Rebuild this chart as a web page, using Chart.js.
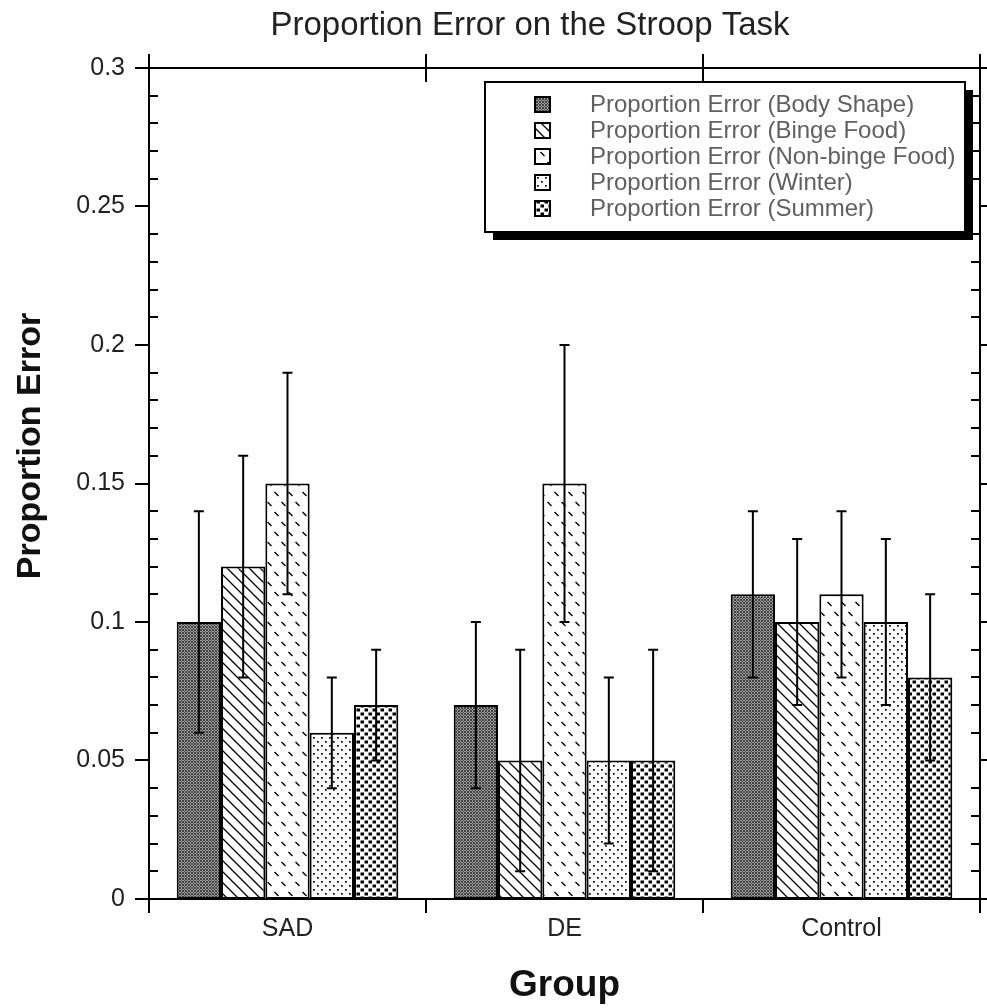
<!DOCTYPE html>
<html>
<head>
<meta charset="utf-8">
<title>Proportion Error on the Stroop Task</title>
<script src="https://cdn.jsdelivr.net/npm/chart.js@4.4.0/dist/chart.umd.min.js"></script>
<style>
    body { margin: 0; background: #fff; }
    canvas { display: block; }
</style>
</head>
<body>
<canvas id="stroopChart" width="987" height="1008"></canvas>
<script>
// Dados do gráfico
const groups = ['SAD', 'DE', 'Control'];
const seriesNames = [
    'Proportion Error (Body Shape)',
    'Proportion Error (Binge Food)',
    'Proportion Error (Non-binge Food)',
    'Proportion Error (Winter)',
    'Proportion Error (Summer)'
];
const bodyShape = [0.10, 0.07, 0.11];
const bingeFood = [0.12, 0.05, 0.10];
const nonBingeFood = [0.15, 0.15, 0.11];
const winter = [0.06, 0.05, 0.10];
const summer = [0.07, 0.05, 0.08];

// Barras de erro (+/-)
const bodyShapeErr = [0.04, 0.03, 0.03];
const bingeFoodErr = [0.04, 0.04, 0.03];
const nonBingeFoodErr = [0.04, 0.05, 0.03];
const winterErr = [0.02, 0.03, 0.03];
const summerErr = [0.02, 0.04, 0.03];

const yTicks = [0, 0.05, 0.1, 0.15, 0.2, 0.25, 0.3];

const FONT = '"Liberation Sans", Arial, Helvetica, sans-serif';

// Padrões de preenchimento (hachuras)
function makePattern(w, h, draw) {
    const c = document.createElement('canvas');
    c.width = w;
    c.height = h;
    const g = c.getContext('2d');
    g.fillStyle = '#fff';
    g.fillRect(0, 0, w, h);
    draw(g);
    return document.getElementById('stroopChart').getContext('2d').createPattern(c, 'repeat');
}

const patterns = [
    // cinza pontilhado denso
    makePattern(3, 3, g => {
        g.fillStyle = '#a0a0a0';
        g.fillRect(0, 0, 3, 3);
        g.fillStyle = '#404040';
        g.fillRect(0, 0, 1, 1);
        g.fillRect(2, 0, 1, 1);
        g.fillRect(1, 1, 1, 1);
        g.fillRect(0, 2, 1, 1);
        g.fillRect(2, 2, 1, 1);
    }),
    // linhas diagonais "\"
    makePattern(11, 11, g => {
        g.strokeStyle = '#000';
        g.lineWidth = 1.3;
        g.beginPath();
        g.moveTo(-2, -2); g.lineTo(13, 13);
        g.moveTo(-2, 9); g.lineTo(2, 13);
        g.moveTo(9, -2); g.lineTo(13, 2);
        g.stroke();
    }),
    // tracinhos espaçados, em colunas alternadas
    makePattern(14, 20, g => {
        g.strokeStyle = '#000';
        g.lineWidth = 1.4;
        g.beginPath();
        g.moveTo(1.5, 2); g.lineTo(5.5, 6);
        g.moveTo(8.5, 12); g.lineTo(12.5, 16);
        g.stroke();
    }),
    // pontos esparsos
    makePattern(8, 8, g => {
        g.fillStyle = '#000';
        g.fillRect(1, 1, 1.7, 1.7);
        g.fillRect(5, 5, 1.7, 1.7);
    }),
    // quadradinhos pretos
    makePattern(8, 8, g => {
        g.fillStyle = '#000';
        g.fillRect(0.5, 0.5, 3.5, 3);
        g.fillRect(4.5, 4.5, 3.5, 3);
    })
];

const values = [bodyShape, bingeFood, nonBingeFood, winter, summer];
const errors = [bodyShapeErr, bingeFoodErr, nonBingeFoodErr, winterErr, summerErr];

// Plugin: barras de erro
const errorBars = {
    id: 'errorBars',
    afterDatasetsDraw(chart) {
        const ctx = chart.ctx;
        const y = chart.scales.y;
        ctx.save();
        ctx.strokeStyle = '#000';
        ctx.lineWidth = 2;
        chart.data.datasets.forEach((ds, i) => {
            const meta = chart.getDatasetMeta(i);
            meta.data.forEach((bar, j) => {
                const v = ds.data[j];
                const e = ds.errors[j];
                const top = y.getPixelForValue(v + e);
                const bot = y.getPixelForValue(v - e);
                ctx.beginPath();
                ctx.moveTo(bar.x, top); ctx.lineTo(bar.x, bot);
                ctx.moveTo(bar.x - 5, top); ctx.lineTo(bar.x + 5, top);
                ctx.moveTo(bar.x - 5, bot); ctx.lineTo(bar.x + 5, bot);
                ctx.stroke();
            });
        });
        ctx.restore();
    }
};

// Plugin: moldura, ticks e títulos
const frame = {
    id: 'frame',
    afterDraw(chart) {
        const ctx = chart.ctx;
        const {left, right, top, bottom} = chart.chartArea;
        const y = chart.scales.y;
        const x = chart.scales.x;
        ctx.save();
        ctx.strokeStyle = '#000';
        ctx.lineWidth = 2;
        ctx.beginPath();
        // eixos
        ctx.moveTo(left, top - 14); ctx.lineTo(left, bottom + 14);
        ctx.moveTo(right, top - 14); ctx.lineTo(right, bottom + 14);
        ctx.moveTo(left - 14, top); ctx.lineTo(chart.width, top);
        ctx.moveTo(left - 14, bottom); ctx.lineTo(chart.width, bottom);
        // ticks maiores e menores no eixo y
        for (let k = 0; k <= 30; k++) {
            const py = Math.round(y.getPixelForValue(k / 100));
            if (k % 5 === 0) {
                ctx.moveTo(left - 14, py); ctx.lineTo(left, py);
                ctx.moveTo(right, py); ctx.lineTo(right + 14, py);
            } else {
                ctx.moveTo(left, py); ctx.lineTo(left + 9, py);
                ctx.moveTo(right - 9, py); ctx.lineTo(right, py);
            }
        }
        // ticks entre categorias
        for (let i = 0; i < groups.length - 1; i++) {
            const px = Math.round((x.getPixelForValue(i) + x.getPixelForValue(i + 1)) / 2);
            ctx.moveTo(px, top - 14); ctx.lineTo(px, top + 14);
            ctx.moveTo(px, bottom); ctx.lineTo(px, bottom + 14);
        }
        ctx.stroke();

        // título
        ctx.fillStyle = '#222';
        ctx.font = '33px ' + FONT;
        ctx.textAlign = 'center';
        ctx.textBaseline = 'middle';
        ctx.fillText('Proportion Error on the Stroop Task', 530, 26);

        // título do eixo y
        ctx.fillStyle = '#111';
        ctx.font = 'bold 34px ' + FONT;
        ctx.translate(31, 446);
        ctx.rotate(-Math.PI / 2);
        ctx.fillText('Proportion Error', 0, 0);
        ctx.restore();
    }
};

// Plugin: legenda com sombra
const boxLegend = {
    id: 'boxLegend',
    afterDraw(chart) {
        const ctx = chart.ctx;
        const bx = 485, by = 82, bw = 480, bh = 150;
        ctx.save();
        ctx.fillStyle = '#000';
        ctx.fillRect(bx + 8, by + 8, bw, bh);
        ctx.fillStyle = '#fff';
        ctx.fillRect(bx, by, bw, bh);
        ctx.strokeStyle = '#000';
        ctx.lineWidth = 2;
        ctx.strokeRect(bx, by, bw, bh);
        ctx.font = '24px ' + FONT;
        ctx.textBaseline = 'middle';
        ctx.textAlign = 'left';
        chart.data.datasets.forEach((ds, i) => {
            const cy = 105 + i * 26;
            ctx.fillStyle = ds.backgroundColor;
            ctx.fillRect(535, cy - 8, 15, 15);
            ctx.lineWidth = 2;
            ctx.strokeRect(535, cy - 8, 15, 15);
            ctx.fillStyle = '#606060';
            ctx.fillText(ds.label, 590, cy);
        });
        ctx.restore();
    }
};

const ctx = document.getElementById('stroopChart').getContext('2d');
const myChart = new Chart(ctx, {
    type: 'bar',
    data: {
        labels: groups,
        datasets: seriesNames.map((name, i) => ({
            label: name,
            data: values[i],
            errors: errors[i],
            backgroundColor: patterns[i],
            borderColor: '#000',
            borderWidth: 2,
            borderSkipped: false,
            categoryPercentage: 0.8,
            barPercentage: 1.0
        }))
    },
    options: {
        responsive: false,
        animation: false,
        layout: {
            padding: { top: 68, right: 7, left: 0, bottom: 0 }
        },
        plugins: {
            legend: { display: false },
            title: { display: false },
            tooltip: { enabled: false }
        },
        scales: {
            x: {
                grid: { display: false, drawTicks: false },
                border: { display: false },
                ticks: {
                    color: '#222',
                    font: { family: FONT, size: 25 },
                    padding: 15
                },
                title: {
                    display: true,
                    text: 'Group',
                    color: '#111',
                    font: { family: FONT, size: 37, weight: 'bold' },
                    padding: { top: 0, bottom: 0 }
                },
                afterFit(scale) { scale.height = 109; }
            },
            y: {
                min: 0,
                max: 0.3,
                afterBuildTicks(scale) {
                    scale.ticks = yTicks.map(v => ({ value: v }));
                },
                grid: { display: false, drawTicks: false },
                border: { display: false },
                ticks: {
                    color: '#222',
                    font: { family: FONT, size: 25 },
                    padding: 24,
                    callback: v => String(v)
                },
                title: { display: false },
                afterFit(scale) { scale.width = 149; }
            }
        }
    },
    plugins: [errorBars, frame, boxLegend]
});
</script>
</body>
</html>
